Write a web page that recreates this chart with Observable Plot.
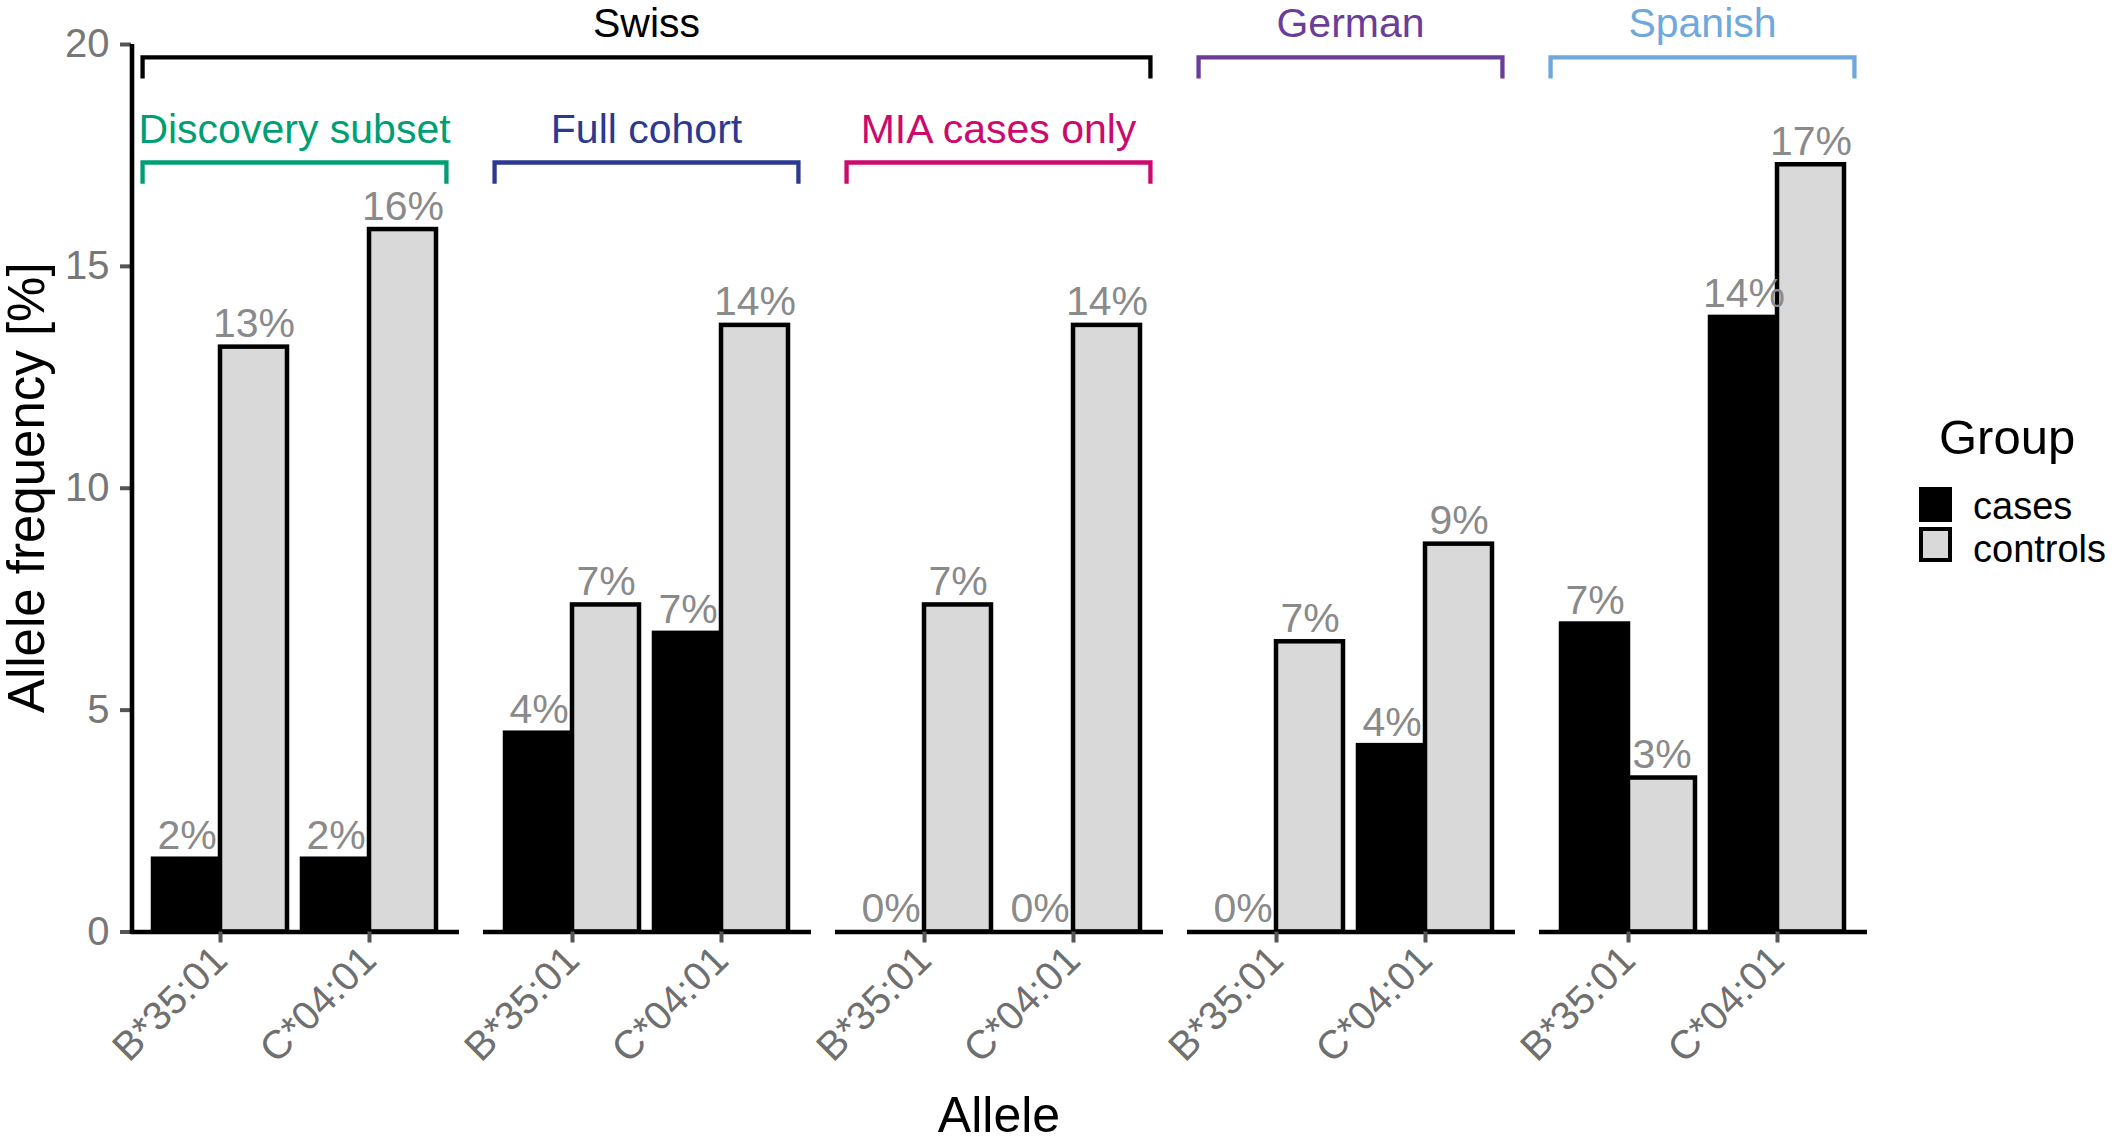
<!DOCTYPE html>
<html>
<head>
<meta charset="utf-8">
<script src="https://cdn.jsdelivr.net/npm/d3@7"></script>
<script src="https://cdn.jsdelivr.net/npm/@observablehq/plot@0.6"></script>
<style>
html, body { margin: 0; padding: 0; background: #fff; }
svg { display: block; }
</style>
</head>
<body>
<div id="chart"></div>
<script>
// ---------- data ----------
const panels = ["Discovery subset", "Full cohort", "MIA cases only", "German", "Spanish"];
const alleles = ["B*35:01", "C*04:01"];
const groups = ["cases", "controls"];
const casesB    = [1.64, 4.48, 0.00, 0.00, 6.94];
const controlsB = [13.18, 7.37, 7.37, 6.54, 3.47];
const casesC    = [1.64, 6.73, 0.00, 4.20, 13.85];
const controlsC = [15.83, 13.67, 13.67, 8.74, 17.29];
const yTicks = [0, 5, 10, 15, 20];

// brackets (annotations)
const topLabels = ["Swiss", "German", "Spanish"];
const topColors = ["#000000", "#6a3d9a", "#6fa8dc"];
const topFirst = [0, 3, 4];
const topLast = [2, 3, 4];
const subLabels = ["Discovery subset", "Full cohort", "MIA cases only"];
const subColors = ["#009e73", "#2b3990", "#cc0a6e"];
const subPanel = [0, 1, 2];
const bracketLevel = [19.70, 17.33];   // y of bracket bar (data units)
const bracketDrop = 0.48;             // length of bracket ends (data units)
const bracketText = [20.16, 17.78];    // baseline of bracket labels (data units)

const legendTitle = "Group";
const xTitle = "Allele";
const yTitle = "Allele frequency [%]";

// ---------- table ----------
const rows = [];
panels.forEach((p, i) => {
  rows.push({panel: p, allele: alleles[0], group: groups[0], value: casesB[i]});
  rows.push({panel: p, allele: alleles[0], group: groups[1], value: controlsB[i]});
  rows.push({panel: p, allele: alleles[1], group: groups[0], value: casesC[i]});
  rows.push({panel: p, allele: alleles[1], group: groups[1], value: controlsC[i]});
});
const casesRows = rows.filter(d => d.group === "cases");
const controlsRows = rows.filter(d => d.group === "controls");

const W = 2117, H = 1141;
const FONT = "'Liberation Sans', Arial, Helvetica, sans-serif";
const pct = d => Math.round(d.value) + "%";

function build(bw) {
  return Plot.plot({
    width: W,
    height: H,
    marginLeft: 129,
    marginRight: 248,
    marginTop: 44,
    marginBottom: 209.5,
    style: {fontFamily: FONT, background: "white", overflow: "visible"},
    fx: {domain: panels, paddingInner: 0.068, paddingOuter: 0, axis: null, label: null},
    x: {domain: alleles, paddingInner: 0.1, paddingOuter: 0.15, axis: null, label: null},
    y: {domain: [0, 20], axis: null, label: null},
    marks: [
      Plot.barY(casesRows, {fx: "panel", x: "allele", y: "value", fill: "#000", stroke: "#000", strokeWidth: 4.5, insetRight: bw / 2}),
      Plot.barY(controlsRows, {fx: "panel", x: "allele", y: "value", fill: "#d9d9d9", stroke: "#000", strokeWidth: 4.5, insetLeft: bw / 2}),
      Plot.ruleY([0], {stroke: "#000", strokeWidth: 4.6}),
      Plot.text(casesRows, {fx: "panel", x: "allele", y: "value", text: pct, dx: -bw / 4, dy: -10, lineAnchor: "bottom", fontSize: 41, fill: "#8a8a8a"}),
      Plot.text(controlsRows, {fx: "panel", x: "allele", y: "value", text: pct, dx: bw / 4, dy: -10, lineAnchor: "bottom", fontSize: 41, fill: "#8a8a8a"}),
      Plot.axisX({fill: "none", tickSize: 11, stroke: "#555", strokeWidth: 4}),
      Plot.axisX({tickSize: 0, tickPadding: 21.5, tickRotate: -45, textAnchor: "end", fontSize: 40, fill: "#6f6f6f"}),
      Plot.axisY(yTicks, {fill: "none", tickSize: 11, stroke: "#555", strokeWidth: 4}),
      Plot.axisY(yTicks, {tickSize: 0, tickPadding: 22, fontSize: 40, fill: "#777"})
    ]
  });
}

const probe = build(0);
const bw = probe.scale("x").bandwidth;
const plot = build(bw);
document.getElementById("chart").appendChild(plot);

// ---------- annotations through the plot's scales ----------
const svg = d3.select(plot);
const fx = plot.scale("fx"), xs = plot.scale("x"), ys = plot.scale("y");
const x0 = Math.min(...xs.range);
const xStep = xs.step ?? xs.bandwidth / (1 - 0.1);
const off = a => xs.apply(a) - x0;
const leftOf = i => fx.apply(panels[i]) + off(alleles[0]) - 0.07 * xStep;
const rightOf = i => fx.apply(panels[i]) + off(alleles[1]) + xs.bandwidth + 0.07 * xStep;

const g = svg.append("g").attr("font-family", FONT).attr("text-anchor", "start");

// y axis line
g.append("line")
  .attr("x1", fx.apply(panels[0]) + 1).attr("x2", fx.apply(panels[0]) + 1)
  .attr("y1", ys.apply(0) + 2.3).attr("y2", ys.apply(20))
  .attr("stroke", "#000").attr("stroke-width", 4.6);

function bracket(l, r, level, color, label, textLevel) {
  const yTop = ys.apply(level), yBot = ys.apply(level - bracketDrop);
  g.append("path")
    .attr("d", `M${l},${yBot}V${yTop}H${r}V${yBot}`)
    .attr("fill", "none").attr("stroke", color).attr("stroke-width", 4.3)
    .attr("stroke-linejoin", "miter");
  g.append("text")
    .attr("x", (l + r) / 2).attr("y", ys.apply(textLevel))
    .attr("text-anchor", "middle").attr("font-size", 41).attr("fill", color)
    .text(label);
}
topLabels.forEach((t, k) => bracket(leftOf(topFirst[k]), rightOf(topLast[k]), bracketLevel[0], topColors[k], t, bracketText[0]));
subLabels.forEach((t, k) => bracket(leftOf(subPanel[k]), rightOf(subPanel[k]), bracketLevel[1], subColors[k], t, bracketText[1]));

// axis titles
const midX = (fx.apply(panels[0]) + fx.apply(panels[panels.length - 1]) + fx.bandwidth) / 2;
g.append("text").attr("x", midX).attr("y", 1132)
  .attr("text-anchor", "middle").attr("font-size", 50).attr("fill", "#000").text(xTitle);
g.append("text")
  .attr("transform", `translate(44,${(ys.apply(0) + ys.apply(20)) / 2}) rotate(-90)`)
  .attr("text-anchor", "middle").attr("font-size", 51).attr("fill", "#000").text(yTitle);

// legend
const lg = g.append("g").attr("text-anchor", "start");
lg.append("text").attr("x", 1939).attr("y", 454).attr("text-anchor", "start")
  .attr("font-size", 49).attr("fill", "#000").text(legendTitle);
const keyFill = ["#000", "#d9d9d9"];
const labelBase = [519, 562];
groups.forEach((grp, i) => {
  const top = 489 + i * 40;
  lg.append("rect").attr("x", 1921).attr("y", top).attr("width", 29).attr("height", 31)
    .attr("fill", keyFill[i]).attr("stroke", "#000").attr("stroke-width", 4);
  lg.append("text").attr("x", 1973).attr("y", labelBase[i]).attr("text-anchor", "start")
    .attr("font-size", 38).attr("fill", "#000").text(grp);
});
</script>
</body>
</html>
